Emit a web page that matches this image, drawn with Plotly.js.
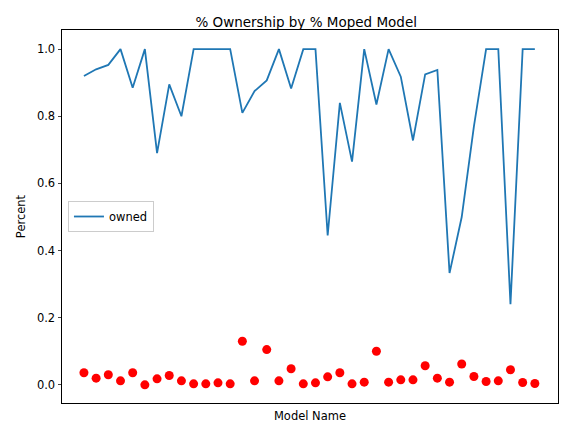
<!DOCTYPE html>
<html><head><meta charset="utf-8">
<script src="https://cdn.plot.ly/plotly-3.0.1.min.js"></script>
<style>body{margin:0}#c{width:567px;height:436px}</style>
</head><body><div id="c"></div>
<script>
const modelIdx = Array.from({length: 38}, (_, i) => i);
const owned = [0.92,0.94,0.953,1.0,0.885,1.0,0.69,0.895,0.80,1,1,1,1,0.81,0.875,0.907,1.0,0.883,1,1,0.445,0.84,0.665,1.0,0.835,1.0,0.918,0.728,0.925,0.938,0.333,0.50,0.77,1,1,0.24,1,1];
const share = [0.036,0.02,0.03,0.012,0.036,0.0,0.018,0.028,0.012,0.003,0.003,0.006,0.003,0.13,0.012,0.105,0.012,0.048,0.003,0.006,0.024,0.036,0.003,0.008,0.1,0.008,0.015,0.015,0.057,0.02,0.008,0.062,0.025,0.01,0.012,0.045,0.007,0.004];

const axis = { showline: true, mirror: true, linecolor: '#000', linewidth: 1, showgrid: false, zeroline: false };
Plotly.newPlot('c', [
  { x: modelIdx, y: owned, name: 'owned', type: 'scatter', mode: 'lines', line: { color: '#1f77b4', width: 1.8 } },
  { x: modelIdx, y: share, name: 'share', type: 'scatter', mode: 'markers', marker: { color: 'red', size: 9 }, showlegend: false }
], {
  width: 567, height: 436, paper_bgcolor: 'white', plot_bgcolor: 'white',
  font: { family: 'DejaVu Sans, sans-serif', size: 11.5, color: '#000' },
  margin: { l: 62, r: 9, t: 30, b: 33 },
  title: { text: '% Ownership by % Moped Model', font: { size: 13.5 }, x: 0.54, y: 0.96 },
  xaxis: { ...axis, range: [-1.8, 38.9], showticklabels: false, ticks: '', title: { text: 'Model Name', font: { size: 11.5 }, standoff: 8 } },
  yaxis: { ...axis, range: [-0.054, 1.057], tickvals: [0, 0.2, 0.4, 0.6, 0.8, 1.0], ticktext: ['0.0','0.2','0.4','0.6','0.8','1.0'], ticks: 'outside', ticklen: 3.5, title: { text: 'Percent', font: { size: 11.5 }, standoff: 8 } },
  showlegend: true,
  legend: { x: 0.012, y: 0.5, yanchor: 'middle', bgcolor: 'white', bordercolor: '#ccc', borderwidth: 1, font: { size: 11.5 } }
}, { staticPlot: true });
</script></body></html>
